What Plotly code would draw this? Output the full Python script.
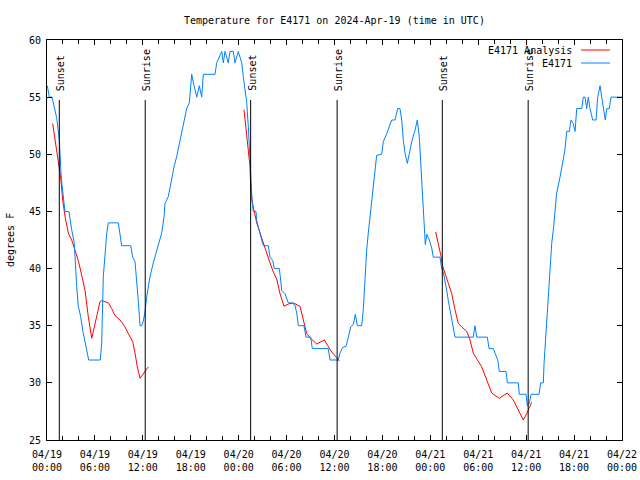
import plotly.graph_objects as go

# ---- data (hours since 2024-04-19 00:00 UTC, temperature degF) ----
obs_hours = [0.04, 0.29, 0.63, 0.79, 1.21, 1.54, 1.63, 1.75, 1.88, 2.04, 2.25, 2.75, 2.88, 3.09,
             3.42, 3.59, 3.72, 3.92, 4.22, 4.47, 4.76, 5.05, 5.22, 6.67, 6.85, 7.05, 7.26, 7.48,
             7.68, 8.93, 9.14, 9.35, 10.48, 10.73, 11.02, 11.23, 11.43, 11.65, 11.86, 12.06, 12.27,
             12.48, 12.90, 13.31, 13.52, 13.94, 14.36, 14.65, 14.78, 15.19, 15.61, 15.94, 16.24,
             16.65, 17.07, 17.49, 17.82, 18.12, 18.41, 18.75, 19.07, 19.37, 19.57, 21.04, 21.25,
             21.88, 22.08, 22.29, 22.70, 22.92, 23.33, 23.54, 23.95, 24.38, 24.58, 24.79, 25.00,
             25.21, 25.33, 25.51, 25.67, 25.83, 26.17, 26.26, 26.58, 26.88, 27.09, 27.71, 27.92,
             28.26, 28.46, 29.09, 29.26, 29.39, 29.80, 30.02, 30.22, 30.64, 31.05, 31.27, 31.47,
             32.18, 32.43, 33.02, 33.22, 35.22, 35.44, 36.48, 36.69, 37.03, 37.44, 37.73, 38.03,
             38.35, 38.61, 38.86, 39.41, 39.61, 39.69, 39.82, 40.03, 40.23, 40.45, 40.66, 40.86,
             41.07, 41.28, 41.91, 42.11, 42.54, 43.16, 43.58, 43.91, 44.20, 44.42, 44.62, 44.83,
             45.12, 45.37, 45.67, 46.08, 46.37, 46.62, 46.92, 47.12, 47.21, 47.37, 47.55, 47.87,
             48.17, 48.37, 49.21, 49.42, 49.62, 49.84, 50.05, 50.25, 50.46, 50.68, 50.88, 51.09,
             53.38, 53.59, 53.81, 55.14, 55.35, 55.89, 56.10, 56.44, 56.64, 57.48, 57.64, 59.02,
             59.14, 59.98, 60.15, 60.40, 60.61, 61.61, 61.82, 62.15, 62.24, 62.48, 62.70, 62.99,
             63.20, 63.40, 63.61, 63.82, 64.24, 64.57, 64.86, 65.07, 65.40, 65.62, 65.90, 66.12,
             66.33, 66.95, 67.16, 67.37, 67.58, 67.78, 67.99, 68.33, 68.75, 68.96, 69.25, 69.46,
             69.66, 69.91, 70.09, 70.41, 70.62, 72.0]
obs_temps = [56, 55, 55, 54.5, 53.2, 51.3, 49.8, 48.4, 47.3, 46, 45, 45, 44.2, 43.4,
             42.2, 39.7, 38.4, 36.7, 35.8, 34.6, 33.5, 32.3, 32, 32, 33.5, 39.3, 41.3, 43.1,
             44, 44, 43, 42, 42, 41, 40.6, 38.4, 37.2, 35, 35, 35.4, 36.2,
             37.5, 39.3, 40.5, 41, 42.1, 43.1, 44.5, 45.7, 46.3, 48, 49, 49.8,
             51.2, 52.7, 54, 54.5, 57, 56, 55, 56, 55, 57, 57, 58,
             59, 58, 59, 58, 59, 59, 58, 59, 58, 56.8, 55.9, 54.6,
             52.4, 50.4, 47.5, 46, 45, 45, 44.2, 43.2, 42.5, 42, 42, 41,
             40.7, 40, 40, 39, 38.1, 37.8, 37.4, 37, 37, 36.8, 36.1, 35,
             35, 34, 34, 33, 33, 32, 32, 32.6, 33.1, 33.2, 34, 34.9,
             35.1, 36, 35, 35, 36.5, 37.7, 39.3, 41.6, 43.1, 44.5, 45.7, 47.5,
             48.9, 49.9, 50, 51.1, 51.8, 53, 53, 54, 54, 53, 51.2, 50.1,
             49.2, 50.1, 51.1, 52.1, 53, 51.5, 47.5, 45.7, 43.4, 42.1, 43, 42.5,
             41.8, 41, 41, 40, 39.7, 39, 38.1, 37.2, 36.4, 35.8, 34.9, 34,
             34, 35, 34, 34, 33, 33, 32.6, 32, 31, 31, 30, 30,
             29, 29, 28, 28.2, 29, 29, 30, 30, 31.7, 34.3, 37.2, 39.6,
             42.2, 43.4, 45, 46.6, 48, 49.2, 50.4, 52, 52, 53, 52.7, 52,
             54, 54, 55, 55, 54, 55, 54, 53, 53, 55, 56, 55,
             54, 53, 54, 54, 55, 55]

ana_hours = [0.71, 1.00, 1.29, 1.54, 1.72, 1.97, 2.25, 2.67, 3.09, 3.51, 3.92, 4.35, 4.76, 5.17,
             5.60, 5.80, 6.22, 6.64, 6.85, 7.68, 8.10, 8.51, 9.14, 9.77, 10.18, 10.73, 11.02,
             11.31, 11.65, 12.06, 12.40, 12.68, None,
             24.67, 24.92, 25.08, 25.26, 25.42, 25.51, 25.76, 26.26, 26.67, 27.09, 27.51, 27.92,
             28.34, 28.76, 29.18, 29.68, 30.22, 30.84, 31.68, 32.09, 32.52, 33.15, 33.77, 34.72,
             35.02, 35.65, 36.28, 36.60, None,
             48.67, 49.00, 49.30, 49.55, 49.84, 50.25, 50.68, 51.09, 51.50, 51.93, 52.56, 52.97,
             53.38, 53.81, 54.43, 55.06, 55.69, 56.10, 56.64, 57.14, 57.64, 58.39, 59.02, 59.64,
             60.07, 60.69]
ana_temps = [52.7, 51.2, 49.8, 48.6, 47.9, 46, 44.6, 43.1, 42.5, 41.6, 40.7, 39.4, 38.1, 35.8,
             33.9, 34.5, 35.9, 37.1, 37.2, 37, 36.5, 35.9, 35.5, 34.9, 34.3, 33.6, 32.6,
             31.4, 30.4, 30.8, 31.1, 31.4, None,
             53.9, 52.4, 51, 50.4, 48.9, 46.9, 45.6, 44, 43.1, 42.2, 41.2, 40.5,
             39.7, 39.1, 37.8, 36.7, 36.9, 37, 36.7, 35.4, 34.3, 33.8, 33.4, 33.75,
             33.4, 32.7, 32.2, 31.9, None,
             43.2, 42.2, 41.2, 40.2, 39.6, 38.7, 37.8, 36.4, 35.2, 34.9, 34.5, 33.75,
             32.6, 32.1, 31.4, 30.25, 29.1, 28.9, 28.65, 28.9, 29.1, 28.5, 27.6, 26.75,
             27.3, 28.3]

sun_hours = [1.54, 12.3, 25.5, 36.33, 49.5, 60.25]
sun_labels = ["Sunset", "Sunrise", "Sunset", "Sunrise", "Sunset", "Sunrise"]
sun_line_top = 54.75

tick_hours = [0, 6, 12, 18, 24, 30, 36, 42, 48, 54, 60, 66, 72]
tick_labels = ["04/19<br>00:00", "04/19<br>06:00", "04/19<br>12:00", "04/19<br>18:00",
               "04/20<br>00:00", "04/20<br>06:00", "04/20<br>12:00", "04/20<br>18:00",
               "04/21<br>00:00", "04/21<br>06:00", "04/21<br>12:00", "04/21<br>18:00",
               "04/22<br>00:00"]
series_names = ["E4171 Analysis", "E4171"]
series_colors = ["#ff0000", "#0080ff"]

FONT = "DejaVu Sans Mono"

fig = go.Figure()
fig.add_trace(go.Scatter(x=ana_hours, y=ana_temps, mode="lines", name=series_names[0],
                         line=dict(color=series_colors[0], width=1), connectgaps=False,
                         showlegend=False))
fig.add_trace(go.Scatter(x=obs_hours, y=obs_temps, mode="lines", name=series_names[1],
                         line=dict(color=series_colors[1], width=1), showlegend=False))

shapes = []
annotations = []
for h, lab in zip(sun_hours, sun_labels):
    shapes.append(dict(type="line", xref="x", yref="y", x0=h, x1=h, y0=25, y1=sun_line_top,
                       line=dict(color="black", width=1)))
    annotations.append(dict(x=h, y=0.8675, xref="x", yref="paper", text=lab, textangle=-90,
                            showarrow=False, xanchor="center", yanchor="bottom", xshift=2,
                            font=dict(family=FONT, size=10, color="black")))

# gnuplot-style key (text left of sample line)
for i, (nm, col) in enumerate(zip(series_names, series_colors)):
    yp = 0.975 - i * 0.0325
    annotations.append(dict(x=0.9165, y=yp, xref="paper", yref="paper", text=nm,
                            showarrow=False, xanchor="right", yanchor="middle",
                            font=dict(family=FONT, size=10, color="black")))
    shapes.append(dict(type="line", xref="paper", yref="paper", x0=0.9287, x1=0.9791,
                       y0=yp, y1=yp, line=dict(color=col, width=1)))

# y-axis title
annotations.append(dict(x=-0.0643, y=0.5, xref="paper", yref="paper", text="degrees F",
                        textangle=-90, showarrow=False, xanchor="center", yanchor="middle",
                        font=dict(family=FONT, size=10, color="black")))

fig.update_layout(
    width=640, height=480,
    margin=dict(l=47, r=18, t=40, b=40, autoexpand=False),
    paper_bgcolor="white", plot_bgcolor="white",
    font=dict(family=FONT, size=10, color="black"),
    title=dict(text="Temperature for E4171 on 2024-Apr-19 (time in UTC)", x=0.5225,
               y=1 - 20 / 480, xanchor="center", yanchor="middle",
               font=dict(family=FONT, size=10)),
    shapes=shapes, annotations=annotations,
    showlegend=False,
)
fig.update_xaxes(range=[0, 72], tickvals=tick_hours, ticktext=tick_labels, automargin=False,
                 showgrid=False, zeroline=False, showline=True, linecolor="black", linewidth=1,
                 mirror="ticks", ticks="inside", ticklen=5, tickcolor="black",
                 ticklabelstandoff=5,
                 minor=dict(ticks="inside", dtick=2, tick0=0, ticklen=4, tickcolor="black",
                            showgrid=False),
                 tickfont=dict(family=FONT, size=10))
fig.update_yaxes(range=[25, 60], tickvals=[25, 30, 35, 40, 45, 50, 55, 60], automargin=False,
                 showgrid=False, zeroline=False, showline=True, linecolor="black", linewidth=1,
                 mirror="ticks", ticks="inside", ticklen=5, tickcolor="black",
                 ticklabelstandoff=3,
                 tickfont=dict(family=FONT, size=10))

fig.write_html("out.html", config={"displayModeBar": False},
               post_script="document.body.style.margin='0';")
